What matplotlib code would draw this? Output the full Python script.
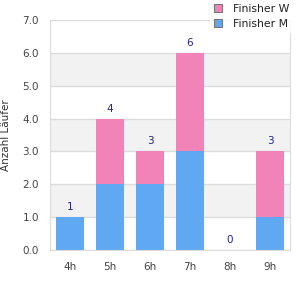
import matplotlib
matplotlib.use("Agg")
import matplotlib.pyplot as plt
from matplotlib.lines import Line2D

# data
kategorien = ["4h", "5h", "6h", "7h", "8h", "9h"]
finisher_m = [1, 2, 2, 3, 0, 1]
finisher_w = [0, 2, 1, 3, 0, 2]
y_ticks = [0, 1, 2, 3, 4, 5, 6, 7]

BLAU = "#60a8f2"
PINK = "#f283b9"

fig = plt.figure(figsize=(3, 3), dpi=100)
ax = fig.add_axes([50/300, 50/300, 240/300, 230/300])

# abwechselnde Bänder
for i in range(len(y_ticks) - 1):
    if i % 2 == 1:
        ax.axhspan(y_ticks[i], y_ticks[i + 1], color="#f2f2f2", zorder=0, lw=0)
for t in y_ticks:
    ax.axhline(t, color="#dcdcdc", lw=1, zorder=1)

x = range(len(kategorien))
ax.bar(x, finisher_m, width=0.72, color=BLAU, zorder=2)
ax.bar(x, finisher_w, width=0.72, bottom=finisher_m, color=PINK, zorder=2)

for i in x:
    total = finisher_m[i] + finisher_w[i]
    ax.text(i, total + 0.15, str(total), ha="center", va="bottom",
            fontsize=7.5, color="#24248c")

ax.set_xlim(-0.5, len(kategorien) - 0.5)
ax.set_ylim(0, 7)
ax.set_xticks(list(x))
ax.set_xticklabels(kategorien)
ax.set_yticks(y_ticks)
ax.set_yticklabels(["%.1f" % t for t in y_ticks])
ax.tick_params(length=0, labelsize=7.5, colors="#444444")
ax.tick_params(axis="x", pad=9)
ax.tick_params(axis="y", pad=8)
ax.spines["top"].set_visible(False)
for s in ["left", "right", "bottom"]:
    ax.spines[s].set_color("#dcdcdc")
ax.set_ylabel("Anzahl Läufer", fontsize=7.5, color="#333333", labelpad=8)

handles = [
    Line2D([], [], marker="s", ls="", markersize=5.5, markerfacecolor=PINK,
           markeredgecolor="#777777", markeredgewidth=0.8),
    Line2D([], [], marker="s", ls="", markersize=5.5, markerfacecolor=BLAU,
           markeredgecolor="#777777", markeredgewidth=0.8),
]
leg = fig.legend(handles, ["Finisher W", "Finisher M"], loc="upper left",
                 bbox_to_anchor=(210/300, 1.0), frameon=True, fontsize=7.8,
                 handletextpad=0.95, borderpad=0.35, labelspacing=0.5,
                 handlelength=0.8, fancybox=False, borderaxespad=0)
leg.get_frame().set_edgecolor("white")
leg.get_frame().set_facecolor("white")
leg.get_frame().set_linewidth(0)
leg.set_zorder(10)
for t in leg.get_texts():
    t.set_color("#222222")

fig.savefig("out.png", dpi=100)
